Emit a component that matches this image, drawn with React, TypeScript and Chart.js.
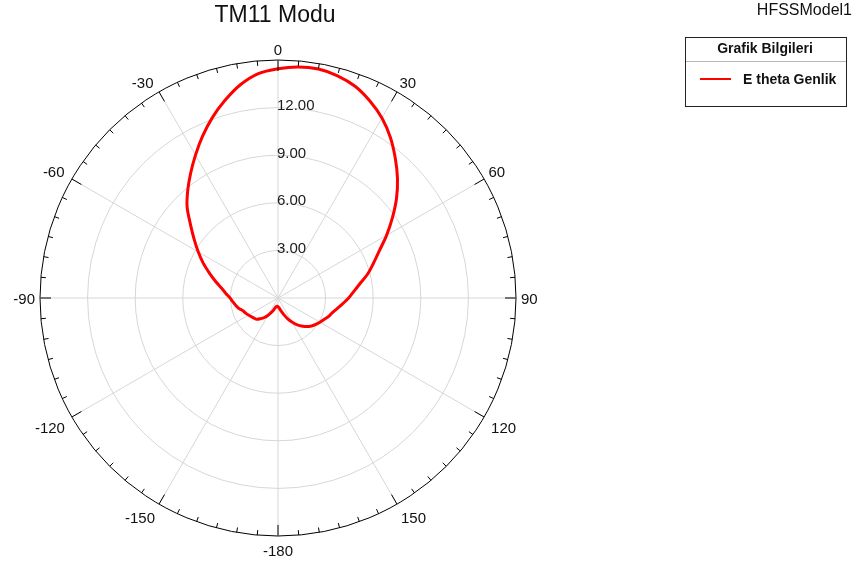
import React, { useEffect, useRef } from 'react';
import { Chart, registerables } from 'chart.js';

Chart.register(...registerables);

// Angle categories (degrees), clockwise from the top, 5° apart
const angleLabels = [
  '0', '5', '10', '15', '20', '25', '30', '35', '40', '45', '50', '55',
  '60', '65', '70', '75', '80', '85', '90', '95', '100', '105', '110', '115',
  '120', '125', '130', '135', '140', '145', '150', '155', '160', '165', '170', '175',
  '-180', '-175', '-170', '-165', '-160', '-155', '-150', '-145', '-140', '-135', '-130', '-125',
  '-120', '-115', '-110', '-105', '-100', '-95', '-90', '-85', '-80', '-75', '-70', '-65',
  '-60', '-55', '-50', '-45', '-40', '-35', '-30', '-25', '-20', '-15', '-10', '-5',
];

// E theta magnitude at each angle above
const eThetaGenlik = [
  14.45, 14.62, 14.65, 14.5, 14.2, 13.7, 13.1, 12.35, 11.5, 10.65, 9.75, 8.8,
  7.9, 7.05, 6.4, 5.85, 5.25, 4.8, 4.45, 4.1, 3.8, 3.55, 3.4, 3.2,
  3.05, 2.9, 2.75, 2.55, 2.3, 2.05, 1.75, 1.45, 1.15, 0.9, 0.72, 0.6,
  0.55, 0.52, 0.55, 0.62, 0.8, 1.0, 1.25, 1.5, 1.7, 1.9, 1.97, 2.05,
  2.15, 2.25, 2.35, 2.55, 2.7, 2.85, 3.02, 3.3, 3.62, 4.08, 4.6, 5.2,
  5.8, 6.45, 7.2, 8.1, 8.85, 9.6, 10.4, 11.25, 12.1, 12.9, 13.65, 14.2,
];

// Labelled angles and labelled radial rings
const majorAngleLabels = ['0', '30', '60', '90', '120', '150', '-180', '-150', '-120', '-90', '-60', '-30'];
const radialTickValues = [3, 6, 9, 12];
const radialMin = 0;
const radialMax = 15;
const radialStep = 3;

const chartTitle = 'TM11 Modu';
const modelName = 'HFSSModel1';
const legendHeader = 'Grafik Bilgileri';
const seriesName = 'E theta Genlik';

const FONT = '"Liberation Sans", Arial, Helvetica, sans-serif';

const polarDecor = {
  id: 'polarDecor',
  afterDraw(chart: any) {
    const ctx: CanvasRenderingContext2D = chart.ctx;
    const s: any = chart.scales.r;
    const R: number = s.drawingArea;
    const labels: string[] = chart.data.labels;
    ctx.save();

    // tick marks on outer circle
    ctx.strokeStyle = '#000';
    ctx.lineWidth = 1;
    for (let i = 0; i < labels.length; i++) {
      const major = majorAngleLabels.includes(labels[i]);
      const p1 = s.getPointPosition(i, R);
      const p2 = s.getPointPosition(i, R - (major ? 11 : 5));
      ctx.beginPath();
      ctx.moveTo(p1.x, p1.y);
      ctx.lineTo(p2.x, p2.y);
      ctx.stroke();
    }

    // angle labels
    ctx.font = `15px ${FONT}`;
    ctx.fillStyle = '#111';
    for (let i = 0; i < labels.length; i++) {
      if (!majorAngleLabels.includes(labels[i])) continue;
      const deg = Math.round((s.getIndexAngle(i) * 180) / Math.PI) % 360;
      const bottomHalf = deg > 90 && deg < 270;
      const p = s.getPointPosition(i, R + (bottomHalf ? 8 : 5));
      let x = p.x;
      let y = p.y;
      if (deg === 0 || deg === 180) ctx.textAlign = 'center';
      else if (deg < 180) ctx.textAlign = 'left';
      else {
        ctx.textAlign = 'right';
        if (deg > 270) x -= 3;
      }
      if (deg === 90 || deg === 270) {
        ctx.textBaseline = 'middle';
        y += 2;
      } else if (bottomHalf) {
        ctx.textBaseline = 'top';
      } else {
        ctx.textBaseline = 'alphabetic';
      }
      ctx.fillText(labels[i], x, y);
    }

    // radial value labels
    ctx.textAlign = 'left';
    ctx.textBaseline = 'alphabetic';
    ctx.fillStyle = '#1a1a1a';
    for (const v of radialTickValues) {
      const d = s.getDistanceFromCenterForValue(v);
      ctx.fillText(v.toFixed(2), s.xCenter - 1, s.yCenter - d + 2.5);
    }

    // title
    ctx.font = `23px ${FONT}`;
    ctx.fillStyle = '#111';
    ctx.textAlign = 'center';
    ctx.fillText(chartTitle, 275, 22);

    // model name
    ctx.font = `16px ${FONT}`;
    ctx.textAlign = 'right';
    ctx.fillText(modelName, 852, 15);

    // legend box
    ctx.strokeStyle = '#222';
    ctx.lineWidth = 1;
    ctx.strokeRect(685.5, 37.5, 161, 69);
    ctx.strokeStyle = '#b8b8b8';
    ctx.beginPath();
    ctx.moveTo(686, 61.5);
    ctx.lineTo(846, 61.5);
    ctx.stroke();
    ctx.font = `bold 14px ${FONT}`;
    ctx.fillStyle = '#111';
    ctx.textAlign = 'center';
    ctx.textBaseline = 'middle';
    ctx.fillText(legendHeader, 765, 49);
    const ds = chart.data.datasets[0];
    ctx.strokeStyle = ds.borderColor;
    ctx.lineWidth = 2;
    ctx.beginPath();
    ctx.moveTo(700, 79);
    ctx.lineTo(731, 79);
    ctx.stroke();
    ctx.textAlign = 'left';
    ctx.fillText(ds.label, 743, 80);

    ctx.restore();
  },
};

export default function App() {
  const canvasRef = useRef<HTMLCanvasElement | null>(null);

  useEffect(() => {
    if (!canvasRef.current) return;
    const chart = new Chart(canvasRef.current, {
      type: 'radar',
      data: {
        labels: angleLabels,
        datasets: [
          {
            label: seriesName,
            data: eThetaGenlik,
            borderColor: '#ff0000',
            backgroundColor: 'transparent',
            borderWidth: 3,
            pointRadius: 0,
            pointHoverRadius: 0,
            fill: false,
            tension: 0.3,
            borderJoinStyle: 'round',
          } as any,
        ],
      },
      options: {
        responsive: false,
        devicePixelRatio: 1,
        animation: false,
        layout: { padding: { left: 40, top: 60, right: 350, bottom: 29 } },
        plugins: {
          legend: { display: false },
          title: { display: false },
          tooltip: { enabled: false },
        },
        scales: {
          r: {
            min: radialMin,
            max: radialMax,
            startAngle: 0,
            ticks: { display: false, stepSize: radialStep },
            pointLabels: { display: false },
            grid: {
              circular: true,
              color: (c: any) => (c.tick && c.tick.value === radialMax ? '#000' : '#d6d6d6'),
              lineWidth: 1,
            },
            angleLines: {
              color: (c: any) => (majorAngleLabels.includes(c.label) ? '#d6d6d6' : 'transparent'),
              lineWidth: (c: any) => (majorAngleLabels.includes(c.label) ? 1 : 0),
            },
          },
        },
      },
      plugins: [polarDecor],
    } as any);
    return () => chart.destroy();
  }, []);

  return (
    <div style={{ position: 'absolute', left: 0, top: 0, width: 866, height: 566, background: '#fff' }}>
      <canvas ref={canvasRef} width={866} height={566} />
    </div>
  );
}
